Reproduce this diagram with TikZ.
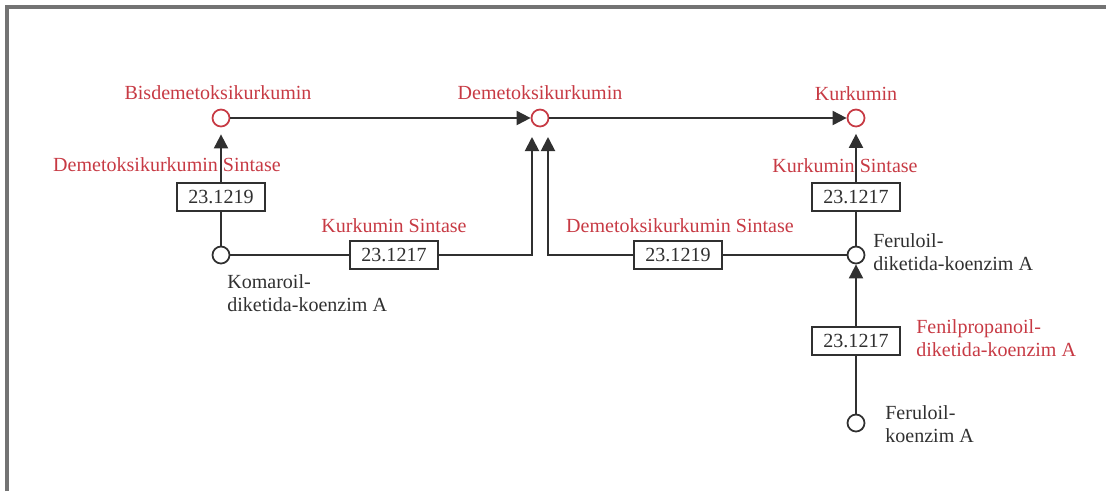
\documentclass[tikz,border=0pt]{standalone}
\usepackage{fontspec}
\setmainfont{Liberation Serif}
\usetikzlibrary{arrows.meta,positioning}
\definecolor{Frame}{HTML}{737373}
\definecolor{Ink}{HTML}{303030}
\definecolor{Enzim}{HTML}{C73A44}

\begin{document}
\begin{tikzpicture}[x=0.02cm, y=-0.02cm, every node/.style={font=\fontsize{11.4}{13}\selectfont},
  met/.style={circle, draw=Ink, fill=white, line width=1pt, minimum size=0.34cm, inner sep=0pt},
  hasil/.style={met, draw=Enzim},
  ec/.style={draw=Ink, fill=white, line width=0.9pt, minimum width=1.76cm, minimum height=0.56cm, inner sep=0pt, text=Ink},
  merah/.style={text=Enzim, inner sep=0pt},
  hitam/.style={text=Ink, inner sep=0pt, align=left, anchor=west},
  garis/.style={draw=Ink, line width=1.1pt},
  panah/.style={garis, -{Triangle[length=8pt,width=8pt]}}]
\useasboundingbox (0,0) rectangle (1106,491);
\draw[Frame, line width=1.8pt] (7,491) -- (7,7) -- (1106,7);
% metabolit
\node[hasil] (bis) at (221,118) {};
\node[hasil] (demet) at (540,118) {};
\node[hasil] (kur) at (856,118) {};
\node[met] (kom) at (221,255) {};
\node[met] (fdk) at (856,255) {};
\node[met] (fk) at (856,423) {};
% enzim
\node[ec] (ecbis) at (221,197) {23.1219};
\node[ec] (eckom) at (394,255) {23.1217};
\node[ec] (ecdem) at (678,255) {23.1219};
\node[ec] (eckur) at (856,197) {23.1217};
\node[ec] (ecfer) at (856,341) {23.1217};
\coordinate (dkiri) at (532,137);
\coordinate (dkanan) at (548,137);
% label
\node[merah] at (218,93) {Bisdemetoksikurkumin};
\node[merah] at (540,93) {Demetoksikurkumin};
\node[merah] at (856,94) {Kurkumin};
\node[merah] at (167,165) {Demetoksikurkumin Sintase};
\node[merah] at (394,226) {Kurkumin Sintase};
\node[merah] at (680,226) {Demetoksikurkumin Sintase};
\node[merah] at (845,166) {Kurkumin Sintase};
\node[merah, align=left, anchor=west] at (916,338) {Fenilpropanoil-\\diketida-koenzim A};
\node[hitam] at (227,293) {Komaroil-\\diketida-koenzim A};
\node[hitam] at (873,252) {Feruloil-\\diketida-koenzim A};
\node[hitam] at (885,424) {Feruloil-\\koenzim A};
% reaksi
\draw[panah] (bis) -- (demet);
\draw[panah] (demet) -- (kur);
\foreach \x/\y in {kom/ecbis,kom/eckom,fdk/ecdem,fdk/eckur,fk/ecfer}{\draw[garis] (\x) -- (\y);}
\draw[panah, shorten >=1.4mm] (ecbis) -- (bis);
\draw[panah, shorten >=1.3mm] (eckur) -- (kur);
\draw[panah] (ecfer) -- (fdk);
\draw[panah] (eckom.east) -| (dkiri);
\draw[panah] (ecdem.west) -| (dkanan);
\end{tikzpicture}
\end{document}
